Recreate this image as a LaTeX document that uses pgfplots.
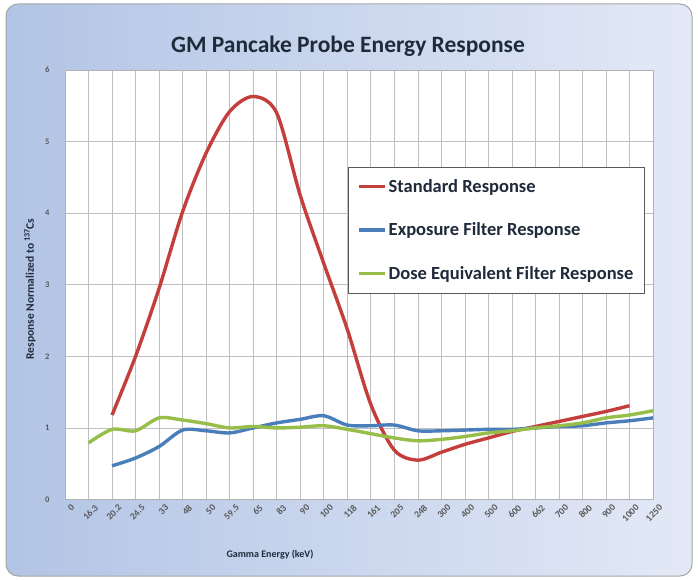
\documentclass[border=0pt]{standalone}
\usepackage{fontspec}
\setmainfont{Carlito}
\usepackage{pgfplots}
\pgfplotsset{compat=1.18}
\definecolor{exred}{HTML}{C43E3B}
\definecolor{exblue}{HTML}{4A7EBB}
\definecolor{exgreen}{HTML}{98BE4A}
\definecolor{bgleft}{HTML}{B2C4E5}
\definecolor{bgright}{HTML}{E3E9F6}
\definecolor{txt}{HTML}{1F2A3A}
\begin{document}
\begin{tikzpicture}[x=1pt,y=1pt]
\useasboundingbox (0,0) rectangle (698,579);
\shade[left color=bgleft, right color=bgright, rounded corners=12pt, draw=gray!70, line width=1pt] (6,3) rectangle (692,575);
\node[font=\fontsize{23.5}{26}\selectfont\bfseries, text=txt] at (348,533) {GM Pancake Probe Energy Response};
\node[font=\fontsize{11.5}{13}\selectfont\bfseries, text=txt, rotate=90] at (30,290) {Response Normalized to\,\textsuperscript{137}Cs};
\node[font=\fontsize{10}{11}\selectfont\bfseries, text=txt] at (270,24) {Gamma Energy (keV)};
\begin{axis}[
  at={(65pt,79.5pt)}, anchor=south west,
  width=588pt, height=429.5pt, scale only axis,
  xmin=0, xmax=25, ymin=0, ymax=6,
  xtick={0,...,25},
  xticklabels={0,16.3,20.2,24.5,33,48,50,59.5,65,83,90,100,118,161,205,248,300,400,500,600,662,700,800,900,1000,1250},
  ytick={0,...,6},
  /pgf/number format/assume math mode=true,
  x tick label style={rotate=45, anchor=north east, font=\fontsize{9.5}{10}\selectfont\bfseries, text=gray!70!black, inner sep=1pt, yshift=-6pt, xshift=2pt},
  y tick label style={font=\fontsize{8.5}{9}\selectfont\bfseries, text=gray!70!black},
  yticklabel style={xshift=-12pt},
  major tick length=0pt,
  grid=major,
  major grid style={gray!50, line width=0.6pt},
  axis line style={gray!60, line width=0.8pt},
  axis background/.style={fill=white},
  legend style={at={(0.481,0.774)}, anchor=north west, draw=gray!70!black, line width=0.8pt, fill=white,
    font=\fontsize{18.5}{20}\selectfont\bfseries, text=txt,
    inner xsep=9pt, inner ysep=10pt, row sep=25pt},
  legend cell align=left,
  legend image code/.code={\draw[#1, line width=3.5pt] (0pt,0pt) -- (26pt,0pt);},
  every axis plot/.append style={line width=3.4pt, smooth, tension=0.5},
]
\addplot[exred] coordinates {
(2,1.18) (3,2.0) (4,2.95) (5,4.02) (6,4.84) (7,5.42) (8,5.63) (9,5.4) (10,4.25) (11,3.3) (12,2.38) (13,1.33) (14,0.69) (15,0.55) (16,0.66) (17,0.77) (18,0.86) (19,0.95) (20,1.02) (21,1.09) (22,1.16) (23,1.23) (24,1.31)
};
\addlegendentry{Standard Response}
\addplot[exblue] coordinates {
(2,0.47) (3,0.58) (4,0.74) (5,0.97) (6,0.96) (7,0.93) (8,1.0) (9,1.07) (10,1.12) (11,1.17) (12,1.04) (13,1.03) (14,1.04) (15,0.96) (16,0.96) (17,0.97) (18,0.98) (19,0.98) (20,1.0) (21,1.02) (22,1.03) (23,1.07) (24,1.10) (25,1.14)
};
\addlegendentry{Exposure Filter Response}
\addplot[exgreen] coordinates {
(1,0.79) (2,0.98) (3,0.96) (4,1.14) (5,1.11) (6,1.06) (7,1.0) (8,1.02) (9,1.0) (10,1.01) (11,1.03) (12,0.98) (13,0.92) (14,0.86) (15,0.82) (16,0.84) (17,0.88) (18,0.93) (19,0.96) (20,1.0) (21,1.03) (22,1.07) (23,1.14) (24,1.18) (25,1.24)
};
\addlegendentry{Dose Equivalent Filter Response}
\end{axis}
\end{tikzpicture}
\end{document}
